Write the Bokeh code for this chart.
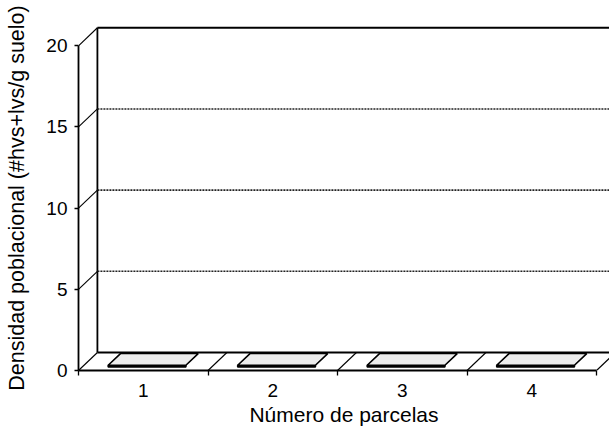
from bokeh.plotting import figure
from bokeh.models import FixedTicker, Range1d, ColumnDataSource
from bokeh.embed import file_html
from bokeh.resources import INLINE

# ---- data ----
parcelas = [1, 2, 3, 4]
densidad = [0.1, 0.1, 0.1, 0.1]
y_ticks = [0, 5, 10, 15, 20]
x_bounds = [0.5, 1.5, 2.5, 3.5, 4.5]

# ---- 3D look (style) ----
DX = 0.146   # depth offset, category units
DY = 1.11    # depth offset, value units
BAR_W = 0.6
F0, F1 = 0.2, 0.85
X_END = 4.6
FONT = "Liberation Sans"

p = figure(frame_width=531, frame_height=345,
           x_range=Range1d(0.5, X_END), y_range=Range1d(0, 21.25),
           output_backend="svg", toolbar_location=None,
           min_border_left=78, min_border_right=0,
           min_border_top=25, min_border_bottom=56)
p.outline_line_color = None
p.xgrid.visible = False
p.ygrid.visible = False

# back wall / floor
x0 = x_bounds[0] + DX
p.segment(x0=[x0], y0=[DY], x1=[x0], y1=[y_ticks[-1] + DY], line_color="black", line_width=1.8)
p.segment(x0=[x0, x0], y0=[DY, y_ticks[-1] + DY], x1=[X_END, X_END],
          y1=[DY, y_ticks[-1] + DY], line_color="black", line_width=1.8)
mid = y_ticks[1:-1]
p.segment(x0=[x0] * len(mid), y0=[v + DY for v in mid], x1=[X_END] * len(mid),
          y1=[v + DY for v in mid], line_color="#222222", line_width=1.6, line_dash="2 1")
# connectors from front axis to back wall
p.segment(x0=[x_bounds[0]] * len(y_ticks), y0=y_ticks,
          x1=[x0] * len(y_ticks), y1=[v + DY for v in y_ticks],
          line_color="black", line_width=1.1)
# floor diagonals
p.segment(x0=x_bounds[1:], y0=[0] * 4, x1=[b + DX for b in x_bounds[1:]], y1=[DY] * 4,
          line_color="black", line_width=1.1)

# bars
top_xs, top_ys, fr_xs, fr_ys = [], [], [], []
for c, v in zip(parcelas, densidad):
    l, r = c - BAR_W / 2, c + BAR_W / 2
    top_xs.append([l + F0 * DX, r + F0 * DX, r + F1 * DX, l + F1 * DX])
    top_ys.append([v + F0 * DY, v + F0 * DY, v + F1 * DY, v + F1 * DY])
    fr_xs.append([l + F0 * DX, r + F0 * DX, r + F0 * DX, l + F0 * DX])
    fr_ys.append([F0 * DY, F0 * DY, v + F0 * DY, v + F0 * DY])
p.patches(xs="xs", ys="ys", source=ColumnDataSource(dict(xs=fr_xs, ys=fr_ys)),
          fill_color="#dddddd", line_color="black", line_width=1.6)
p.patches(xs="xs", ys="ys", source=ColumnDataSource(dict(xs=top_xs, ys=top_ys)),
          fill_color="#ededed", line_color="black", line_width=1.6)

# axes
ya = p.yaxis[0]
ya.bounds = (y_ticks[0], y_ticks[-1])
ya.ticker = FixedTicker(ticks=y_ticks)
ya.major_tick_in = 0
ya.major_tick_out = 4
ya.minor_tick_out = 0
ya.axis_line_width = 1.8
ya.major_tick_line_width = 1.3
ya.major_label_text_font = FONT
ya.major_label_text_font_size = "19px"
ya.major_label_text_color = "black"
ya.major_label_standoff = 7
ya.axis_label = "Densidad poblacional (#hvs+lvs/g suelo)"
ya.axis_label_text_font = FONT
ya.axis_label_text_font_size = "21.5px"
ya.axis_label_text_font_style = "normal"
ya.axis_label_text_color = "black"
ya.axis_label_standoff = 14

xa = p.xaxis[0]
xa.bounds = (x_bounds[0], x_bounds[-1])
xa.ticker = FixedTicker(ticks=parcelas, minor_ticks=x_bounds)
xa.major_tick_in = 0
xa.major_tick_out = 0
xa.minor_tick_in = 0
xa.minor_tick_out = 5
xa.minor_tick_line_color = "black"
xa.minor_tick_line_width = 1.3
xa.axis_line_width = 1.8
xa.major_label_text_font = FONT
xa.major_label_text_font_size = "19px"
xa.major_label_text_color = "black"
xa.major_label_standoff = 8
xa.axis_label = "Número de parcelas"
xa.axis_label_text_font = FONT
xa.axis_label_text_font_size = "21px"
xa.axis_label_text_font_style = "normal"
xa.axis_label_text_color = "black"
xa.axis_label_standoff = 3

open("out.html", "w").write(file_html(p, INLINE))
